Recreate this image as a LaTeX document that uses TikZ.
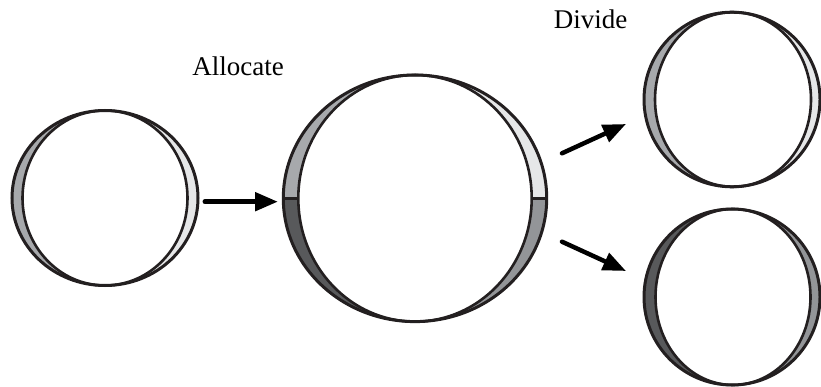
\documentclass[tikz,border=0pt]{standalone}
\usepackage{fontspec}
\setmainfont{Liberation Serif}
\usetikzlibrary{arrows.meta,shapes.geometric}
\definecolor{gmid}{HTML}{A7A9AC}
\definecolor{glight}{HTML}{E6E7E8}
\definecolor{gdark}{HTML}{58595B}
\definecolor{gmd2}{HTML}{939598}
\definecolor{ink}{HTML}{231F20}
\tikzset{
  outerline/.style={draw=ink, line width=3pt},
  innerline/.style={draw=ink, line width=2.6pt},
  arr/.style={line width=5pt, line cap=round, -{Triangle[length=23pt,width=18pt]}},
  lbl/.style={font=\fontsize{27}{32}\selectfont, inner sep=0pt, anchor=base},
  ringnode/.style={ellipse, inner sep=0pt, draw=none}
}
\begin{document}
\begin{tikzpicture}[x=1pt,y=-1pt]
\useasboundingbox (0,0) rectangle (821,387);
% ---- ring 1
\begin{scope}
  \clip (105,198) ellipse [x radius=93pt, y radius=87.5pt];
  \fill[gmid] (0,0) rectangle (105,400);
  \fill[glight] (105,0) rectangle (300,400);
\end{scope}
\fill[white] (105,198) ellipse [x radius=82.5pt, y radius=87.5pt];
\draw[innerline] (105,198) ellipse [x radius=82.5pt, y radius=87.5pt];
\draw[outerline] (105,198) ellipse [x radius=93pt, y radius=87.5pt];
\node[ringnode, minimum width=186pt, minimum height=175pt] (r1) at (105,198) {};
% ---- ring 2
\begin{scope}
  \clip (415,198.3) ellipse [x radius=131.7pt, y radius=123.3pt];
  \fill[gmid] (270,60) rectangle (415,198.3);
  \fill[glight] (415,60) rectangle (560,198.3);
  \fill[gdark] (270,198.3) rectangle (415,330);
  \fill[gmd2] (415,198.3) rectangle (560,330);
\end{scope}
\fill[white] (415,198.3) ellipse [x radius=116.7pt, y radius=123.3pt];
\draw[innerline] (415,198.3) ellipse [x radius=116.7pt, y radius=123.3pt];
\draw[innerline] (283.3,198.3) -- (298.3,198.3);
\draw[innerline] (531.7,198.3) -- (546.7,198.3);
\draw[outerline] (415,198.3) ellipse [x radius=131.7pt, y radius=123.3pt];
\node[ringnode, minimum width=263.4pt, minimum height=246.6pt] (r2) at (415,198.3) {};
% ---- ring 3
\begin{scope}
  \clip (732,99.5) ellipse [x radius=88pt, y radius=87.3pt];
  \fill[gmid] (630,0) rectangle (732,200);
  \fill[glight] (732,0) rectangle (830,200);
\end{scope}
\fill[white] (733,99.5) ellipse [x radius=78pt, y radius=87.3pt];
\draw[innerline] (733,99.5) ellipse [x radius=78pt, y radius=87.3pt];
\draw[outerline] (732,99.5) ellipse [x radius=88pt, y radius=87.3pt];
\node[ringnode, minimum width=176pt, minimum height=174.6pt] (r3) at (732,99.5) {};
% ---- ring 4
\begin{scope}
  \clip (732,297) ellipse [x radius=88pt, y radius=88pt];
  \fill[gdark] (630,200) rectangle (732,400);
  \fill[gmd2] (732,200) rectangle (830,400);
\end{scope}
\fill[white] (733,297) ellipse [x radius=77.5pt, y radius=88pt];
\draw[innerline] (733,297) ellipse [x radius=77.5pt, y radius=88pt];
\draw[outerline] (732,297) ellipse [x radius=88pt, y radius=88pt];
\node[ringnode, minimum width=176pt, minimum height=176pt] (r4) at (732,297) {};
% ---- labels
\node[lbl] (alloc) at (238,76) {Allocate};
\node[lbl] (divide) at (590.5,28.3) {Divide};
% ---- arrows
\coordinate (a1s) at (205,201.7);
\coordinate (a1e) at (278,201.7);
\coordinate (a2s) at (562,153.3);
\coordinate (a2e) at (626,124);
\coordinate (a3s) at (562,241.7);
\coordinate (a3e) at (626,271);
\draw[arr] (a1s) -- (a1e);
\draw[arr, line width=4.5pt] (a2s) -- (a2e);
\draw[arr, line width=4.5pt] (a3s) -- (a3e);
\end{tikzpicture}
\end{document}
